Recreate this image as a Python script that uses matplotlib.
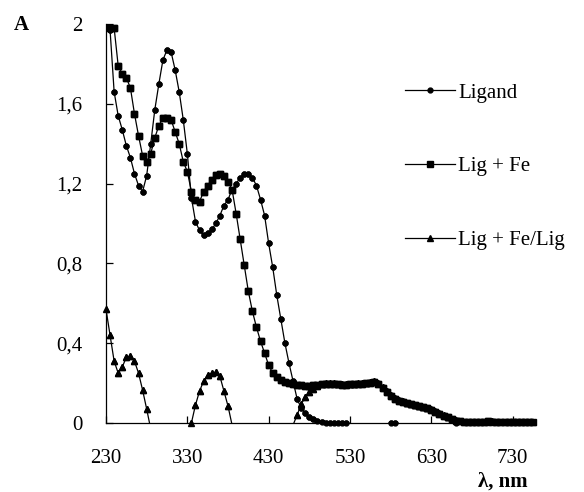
"""UV-Vis spectra of the ligand and its Fe complex."""

import matplotlib
matplotlib.use("Agg")
import matplotlib.pyplot as plt
import numpy as np

plt.rcParams["font.family"] = ["Liberation Serif", "DejaVu Serif"]

# wavelength grids, nm
WL_LIGAND = np.arange(235, 756, 5)
WL_FE = np.arange(235, 756, 5)
WL_DIFF = np.arange(230, 756, 5)

LIGAND = [
    1.97, 1.66, 1.54, 1.47, 1.39, 1.33, 1.25, 1.19, 1.16, 1.24,
    1.40, 1.57, 1.70, 1.82, 1.87, 1.86, 1.77, 1.66, 1.52, 1.35,
    1.13, 1.01, 0.965, 0.94, 0.95, 0.97, 1.00, 1.04, 1.09, 1.12,
    1.17, 1.20, 1.23, 1.25, 1.25, 1.23, 1.19, 1.12, 1.04, 0.90,
    0.78, 0.64, 0.52, 0.40, 0.30, 0.21, 0.12, 0.075, 0.05, 0.03,
    0.018, 0.008, 0.004, 0.0, 0.0, 0.0, 0.0, 0.0, 0.0, -0.02,
    -0.02, -0.02, -0.02, -0.02, -0.02, -0.02, -0.02, -0.02, -0.02, 0.0,
    0.0, -0.02, -0.02, -0.02, -0.02, -0.02, -0.02, -0.02, -0.02, -0.02,
    -0.02, -0.02, -0.02, -0.02, -0.02, 0.0, -0.02, -0.02, -0.02, -0.02,
    -0.02, -0.02, -0.02, -0.02, -0.02, -0.02, -0.02, -0.02, -0.02, -0.02,
    -0.02, -0.02, -0.02, -0.02, -0.02,
]

LIG_FE = [
    1.98, 1.98, 1.79, 1.75, 1.73, 1.68, 1.55, 1.44, 1.34, 1.31,
    1.35, 1.43, 1.49, 1.53, 1.53, 1.52, 1.46, 1.40, 1.31, 1.26,
    1.16, 1.12, 1.11, 1.16, 1.19, 1.22, 1.245, 1.25, 1.24, 1.21,
    1.17, 1.05, 0.92, 0.79, 0.66, 0.56, 0.48, 0.41, 0.35, 0.29,
    0.25, 0.23, 0.215, 0.205, 0.20, 0.195, 0.19, 0.188, 0.186, 0.186,
    0.188, 0.19, 0.195, 0.197, 0.195, 0.195, 0.193, 0.192, 0.192, 0.193,
    0.195, 0.195, 0.197, 0.198, 0.203, 0.205, 0.195, 0.175, 0.155, 0.135,
    0.12, 0.11, 0.105, 0.10, 0.095, 0.09, 0.085, 0.08, 0.075, 0.065,
    0.055, 0.045, 0.035, 0.028, 0.02, 0.012, 0.008, 0.006, 0.005, 0.007,
    0.004, 0.006, 0.005, 0.008, 0.004, 0.006, 0.005, 0.007, 0.004, 0.006,
    0.005, 0.004, 0.006, 0.005, 0.004,
]

LIG_FE_DIFF = [
    0.57, 0.44, 0.31, 0.25, 0.28, 0.33, 0.335, 0.31, 0.25, 0.165,
    0.07, -0.03, -0.12, -0.18, -0.20, -0.20, -0.18, -0.15, -0.12, -0.08,
    -0.04, 0.0, 0.09, 0.16, 0.21, 0.24, 0.25, 0.255, 0.235, 0.16,
    0.085, -0.01, -0.10, -0.20, -0.30, -0.30, -0.25, -0.20, -0.15, -0.10,
    -0.08, -0.06, -0.05, -0.04, -0.03, -0.03, -0.01, 0.04, 0.095, 0.13,
    0.155, 0.17, 0.185, 0.195, 0.20, 0.20, 0.198, 0.197, 0.196, 0.195,
    0.196, 0.197, 0.198, 0.20, 0.202, 0.205, 0.21, 0.20, 0.18, 0.16,
    0.14, 0.125, 0.115, 0.108, 0.10, 0.095, 0.09, 0.085, 0.08, 0.075,
    0.068, 0.058, 0.048, 0.038, 0.03, 0.022, 0.014, 0.008, 0.006, 0.004,
    0.006, 0.003, 0.007, 0.004, 0.005, 0.008, 0.003, 0.006, 0.004, 0.007,
    0.005, 0.003, 0.006, 0.004, 0.005, 0.003,
]

SERIES = [
    ("Ligand", WL_LIGAND, LIGAND, "o", 3.5),
    ("Lig + Fe", WL_FE, LIG_FE, "s", 4.0),
    ("Lig + Fe/Lig", WL_DIFF, LIG_FE_DIFF, "^", 5.0),
]

X_TICKS = [230, 330, 430, 530, 630, 730]
Y_TICKS = [0, 0.4, 0.8, 1.2, 1.6, 2.0]
Y_TICK_LABELS = ["0", "0,4", "0,8", "1,2", "1,6", "2"]

FS = 15


def main():
    fig = plt.figure(figsize=(5.84, 4.92), dpi=100)
    ax = fig.add_axes([106 / 584, 69 / 492, 427 / 584, 399 / 492])

    for label, wl, vals, marker, ms in SERIES:
        wl = np.asarray(wl)
        vals = np.asarray(vals)
        visible = vals >= 0
        # line clipped at the axis, markers only where the value is shown
        ax.plot(wl, vals, color="black", lw=0.9, marker=marker, ms=ms,
                markevery=list(visible), label=label)
        ax.plot(wl[visible], vals[visible], ls="none", marker=marker, ms=ms,
                color="black", clip_on=False, zorder=3)

    ax.set_xlim(230, 755)
    ax.set_ylim(0, 2)
    ax.set_xticks(X_TICKS)
    ax.set_xticklabels([str(t) for t in X_TICKS], fontsize=FS)
    ax.set_yticks(Y_TICKS)
    ax.set_yticklabels(Y_TICK_LABELS, fontsize=FS)
    ax.tick_params(axis="x", direction="in", length=5, width=0.9, pad=19)
    ax.tick_params(axis="y", direction="in", length=5, width=0.9, pad=17)
    for side in ("top", "right"):
        ax.spines[side].set_visible(False)
    for side in ("left", "bottom"):
        ax.spines[side].set_linewidth(0.9)

    fig.text(21 / 584, 1 - 25 / 492, "A", fontsize=FS, weight="bold",
             ha="center", va="center")
    fig.text(528 / 584, 1 - 482 / 492, "λ, nm", fontsize=FS, weight="bold",
             ha="right", va="center")

    fig.legend(loc="upper left", bbox_to_anchor=(405 / 584, 1 - 83 / 492),
               frameon=False, fontsize=FS, handlelength=2.4, handletextpad=0.15,
               labelspacing=2.6, borderpad=0, borderaxespad=0, numpoints=1)

    fig.savefig("out.png", dpi=100)
    plt.close(fig)


if __name__ == "__main__":
    main()
